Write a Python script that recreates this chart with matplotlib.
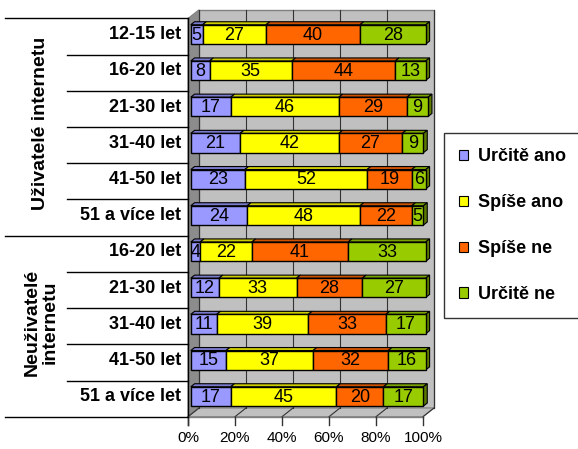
import matplotlib
matplotlib.use("Agg")
import matplotlib.pyplot as plt
from matplotlib.patches import Polygon, Patch
import numpy as np

# ---------------- data ----------------
categories = ["12-15 let", "16-20 let", "21-30 let", "31-40 let", "41-50 let", "51 a více let",
              "16-20 let", "21-30 let", "31-40 let", "41-50 let", "51 a více let"]
groups = ["Uživatelé internetu", "Neuživatelé\ninternetu"]
group_sizes = [6, 5]
series_names = ["Určitě ano", "Spíše ano", "Spíše ne", "Určitě ne"]
urcite_ano = [5, 8, 17, 21, 23, 24, 4, 12, 11, 15, 17]
spise_ano = [27, 35, 46, 42, 52, 48, 22, 33, 39, 37, 45]
spise_ne = [40, 44, 29, 27, 19, 22, 41, 28, 33, 32, 20]
urcite_ne = [28, 13, 9, 9, 6, 5, 33, 27, 17, 16, 17]
xticks = [0, 20, 40, 60, 80, 100]
xtick_labels = ["0%", "20%", "40%", "60%", "80%", "100%"]

face_colors = ["#9999FF", "#FFFF00", "#FF6600", "#99CC00"]
top_colors = ["#7A7ACC", "#CCCC00", "#CC5200", "#7AA300"]
side_colors = ["#5C5C99", "#999900", "#993D00", "#5C7A00"]

plt.rcParams['font.family'] = ['Liberation Sans', 'DejaVu Sans']

W, H = 578, 449
fig = plt.figure(figsize=(W / 100, H / 100), dpi=100)
fig.patch.set_facecolor("white")

# front plane: x 0..100 -> px 188..423 ; y -0.5..10.5 -> px 18.5..416.7
x0p, x1p = 188, 423
y0p, y1p = 18.5, 416.7
ax = fig.add_axes([x0p / W, 1 - y1p / H, (x1p - x0p) / W, (y1p - y0p) / H])
n = len(categories)
ax.set_xlim(0, 100)
ax.set_ylim(n - 0.5, -0.5)
ax.axis("off")

ppx = (x1p - x0p) / 100.0
ppy = (y1p - y0p) / n
DX = 11 / ppx          # depth offset in data units
DY = -8.7 / ppy
def px2x(p):
    return (p - x0p) / ppx

top, bot = -0.5, n - 0.5

def poly(pts, fc, ec, lw=0.8, z=1):
    ax.add_patch(Polygon(pts, closed=True, facecolor=fc, edgecolor=ec, lw=lw,
                         zorder=z, clip_on=False, joinstyle="miter"))

# back wall
poly([(0 + DX, top + DY), (100 + DX, top + DY), (100 + DX, bot + DY), (0 + DX, bot + DY)],
     "#C0C0C0", "#808080", 1.0, 1)
# left side wall
poly([(0, top), (DX, top + DY), (DX, bot + DY), (0, bot)], "#8C8C8C", "#808080", 0.8, 1.1)
# floor
poly([(0, bot), (100, bot), (100 + DX, bot + DY), (DX, bot + DY)], "#C0C0C0", "#808080", 0.8, 1.2)
# gridlines on back wall and floor
for xt in xticks:
    ax.plot([xt + DX, xt + DX], [top + DY, bot + DY], color="#333333", lw=0.8, zorder=1.5,
            clip_on=False)
    ax.plot([xt, xt + DX], [bot, bot + DY], color="#333333", lw=0.8, zorder=1.5, clip_on=False)

# bars
series = [urcite_ano, spise_ano, spise_ne, urcite_ne]
f0, f1 = 0.25, 0.6
hh = 9.65 / ppy
for i in range(n):
    left = 0.0
    yc = i + f0 * DY
    ox, oy = (f1 - f0) * DX, (f1 - f0) * DY
    bx = f0 * DX
    for s, vals in enumerate(series):
        v = vals[i]
        xl, xr = left + bx, left + v + bx
        yt, yb = yc - hh, yc + hh
        # top face
        poly([(xl, yt), (xr, yt), (xr + ox, yt + oy), (xl + ox, yt + oy)],
             top_colors[s], "black", 0.8, 3)
        # front face
        poly([(xl, yt), (xr, yt), (xr, yb), (xl, yb)], face_colors[s], "black", 1.0, 3.2)
        if s == len(series) - 1:
            poly([(xr, yt), (xr + ox, yt + oy), (xr + ox, yb + oy), (xr, yb)],
                 side_colors[s], "black", 0.8, 3)
        ax.text((xl + xr) / 2, yc + 0.02, str(v), ha="center", va="center", fontsize=13,
                color="black", zorder=5, clip_on=False)
        left += v

# category axis line and ticks
ax.plot([0, 0], [top, bot + 8 / ppy], color="black", lw=1.0, zorder=4, clip_on=False)
ax.plot([0, 100], [bot, bot], color="#808080", lw=1.0, zorder=4, clip_on=False)
for xt, lab in zip(xticks, xtick_labels):
    ax.plot([xt, xt], [bot, bot + 8 / ppy], color="#333333", lw=1.0, zorder=4, clip_on=False)
    ax.text(xt, bot + 21.5 / ppy, lab, ha="center", va="center", fontsize=11, zorder=5)

# category boundary lines
bounds_full = [0, 6, 11]
for k in range(n + 1):
    xs = px2x(5) if k in bounds_full else px2x(67)
    ax.plot([xs, 0], [k - 0.5, k - 0.5], color="black", lw=1.0, zorder=4, clip_on=False)

# category labels
for i, c in enumerate(categories):
    ax.text(px2x(181), i - 0.05, c, ha="right", va="center", fontsize=13, fontweight="bold",
            zorder=5)

# group labels
start = 0
for g, size in zip(groups, group_sizes):
    yc = start + (size - 1) / 2
    ax.text(px2x(41), yc - 0.1, g, ha="center", va="center", rotation=90, fontsize=14,
            fontweight="bold", linespacing=1.05, multialignment="center", zorder=5)
    start += size

# legend
handles = [Patch(facecolor=c, edgecolor="black", lw=0.8) for c in face_colors]
leg = fig.legend(handles, series_names, loc="upper left",
                 bbox_to_anchor=(444 / W, 1 - 133 / H), frameon=True, fancybox=False,
                 prop={"size": 13, "weight": "bold"}, handlelength=0.5, handleheight=0.5,
                 handletextpad=0.55, labelspacing=1.6, borderpad=0.85, borderaxespad=0)
leg.get_frame().set_edgecolor("black")
leg.get_frame().set_linewidth(1.0)

fig.savefig("out.png", dpi=100)
